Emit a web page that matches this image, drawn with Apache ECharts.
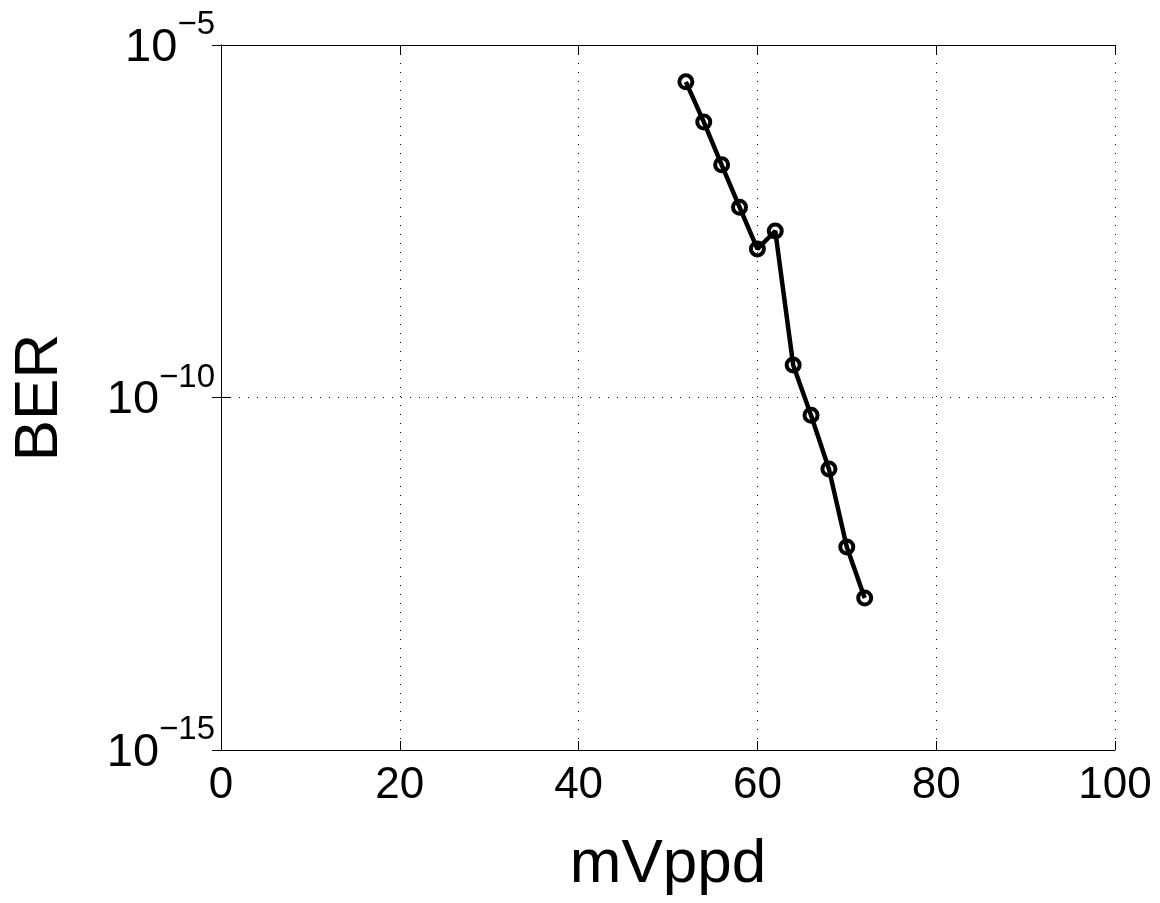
<!DOCTYPE html>
<html>
<head>
<meta charset="utf-8">
<script src="https://cdn.jsdelivr.net/npm/echarts@6/dist/echarts.min.js"></script>
<style>html,body{margin:0;padding:0;background:#fff}#c{width:1160px;height:903px}</style>
</head>
<body>
<div id="c"></div>
<script>
const mVppd = [52, 54, 56, 58, 60, 62, 64, 66, 68, 70, 72];
const ber = [3.0e-6, 8.1e-7, 2.0e-7, 5.0e-8, 1.28e-8, 2.3e-8, 2.9e-10, 5.6e-11, 9.7e-12, 7.6e-13, 1.43e-13];
const xTicks = [0, 20, 40, 60, 80, 100];
const yTickExps = [-15, -10, -5];

const FONT = '"Liberation Sans", Arial, Helvetica, sans-serif';
const chart = echarts.init(document.getElementById('c'));
const tickStyle = {inside: true, length: 9, lineStyle: {color: '#000', width: 1}};
const lineStyle = {color: '#000', width: 1};
chart.setOption({
  backgroundColor: '#fff',
  animation: false,
  textStyle: {fontFamily: FONT, color: '#000'},
  grid: {left: 221, top: 45, width: 894, height: 705, containLabel: false},
  xAxis: [{
    type: 'value', min: xTicks[0], max: xTicks[xTicks.length - 1], interval: 20,
    position: 'bottom',
    axisLine: {show: true, lineStyle: lineStyle},
    axisTick: tickStyle,
    axisLabel: {fontSize: 44, color: '#000', margin: 14, fontFamily: FONT},
    splitLine: {show: true, lineStyle: {color: '#000', width: 1, type: [1, 8]}},
    name: 'mVppd', nameLocation: 'middle', nameGap: 84,
    nameTextStyle: {fontSize: 62, color: '#000', fontFamily: FONT}
  }, {
    type: 'value', min: xTicks[0], max: xTicks[xTicks.length - 1], interval: 20,
    position: 'top',
    axisLine: {show: true, lineStyle: lineStyle},
    axisTick: tickStyle, axisLabel: {show: false}, splitLine: {show: false}
  }],
  yAxis: [{
    type: 'log', logBase: 10, min: Math.pow(10, yTickExps[0]), max: Math.pow(10, yTickExps[2]), interval: 5,
    position: 'left',
    axisLine: {show: true, lineStyle: lineStyle},
    axisTick: tickStyle,
    minorTick: {show: false},
    axisLabel: {
      margin: 6, color: '#000', fontSize: 46, padding: [0, 0, 10, 0],
      formatter: function (v) {
        const e = Math.round(Math.log10(v));
        return '{b|10}{s|' + (e < 0 ? '\u2212' + (-e) : e) + '}';
      },
      rich: {
        b: {fontSize: 47, fontFamily: FONT, color: '#000', verticalAlign: 'bottom'},
        s: {fontSize: 33, fontFamily: FONT, color: '#000', verticalAlign: 'bottom', padding: [0, 0, 30, 0]}
      }
    },
    splitLine: {show: true, lineStyle: {color: '#000', width: 1, type: [1, 8]}},
    name: 'BER', nameLocation: 'middle', nameGap: 150,
    nameTextStyle: {fontSize: 62, color: '#000', fontFamily: FONT}
  }, {
    type: 'log', logBase: 10, min: Math.pow(10, yTickExps[0]), max: Math.pow(10, yTickExps[2]), interval: 5,
    position: 'right',
    axisLine: {show: true, lineStyle: lineStyle},
    axisTick: tickStyle, axisLabel: {show: false}, splitLine: {show: false}, minorTick: {show: false}
  }],
  series: [{
    type: 'line',
    data: mVppd.map((x, i) => [x, ber[i]]),
    xAxisIndex: 0, yAxisIndex: 0,
    symbol: 'circle', symbolSize: 13,
    lineStyle: {color: '#000', width: 4.5},
    itemStyle: {color: 'transparent', borderColor: '#000', borderWidth: 4},
    z: 5
  }]
});
</script>
</body>
</html>
